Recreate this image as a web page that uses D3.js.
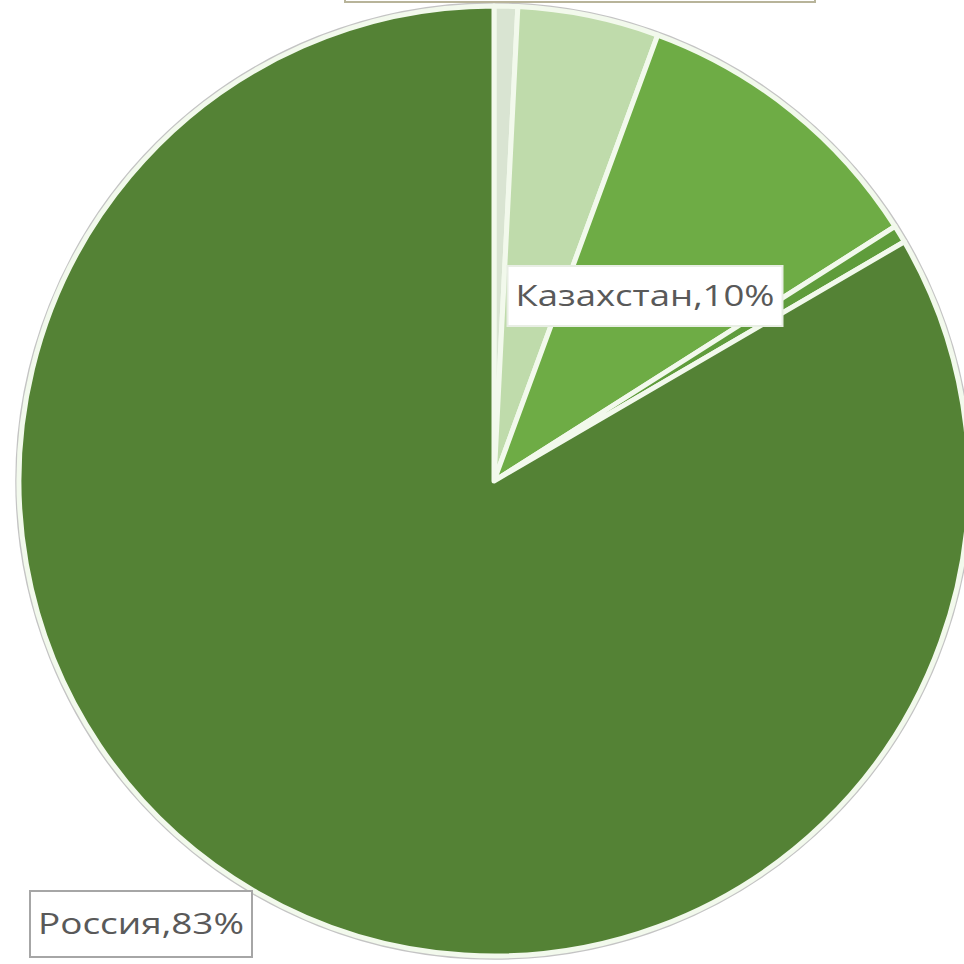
<!DOCTYPE html>
<html><head><meta charset="utf-8">
<script src="https://cdn.jsdelivr.net/npm/d3@7"></script>
<style>html,body{margin:0;padding:0;background:#fff;}svg{display:block;}</style>
</head><body>
<svg id="c" width="964" height="964"></svg>
<script>
const categories = ["Прочие", "Беларусь", "Казахстан", "Киргизия", "Россия"];
const values = [0.8, 4.8, 10.4, 0.6, 83.4];
const colors = ["#d9e4d2", "#bfdbab", "#6eac45", "#5f9c3b", "#548235"];
const shownLabels = ["Казахстан", "Россия"];

const svg = d3.select("#c");
const cx = 494, cy = 481, R = 475;
const g = svg.append("g").attr("transform", `translate(${cx},${cy})`);

const data = categories.map((c, i) => ({name: c, value: values[i], color: colors[i]}));
const pie = d3.pie().value(d => d.value).sort(null).startAngle(0).endAngle(2 * Math.PI);
const arcs = pie(data);
const arc = d3.arc().innerRadius(0).outerRadius(R);

// outer grey rim
g.append("circle").attr("r", R + 2.5).attr("fill", "none").attr("stroke", "#c4c4c4").attr("stroke-width", 2.5);

g.selectAll("path.slice").data(arcs).join("path")
  .attr("class", "slice")
  .attr("d", arc)
  .attr("fill", d => d.data.color)
  .attr("stroke", "#f2f9ec")
  .attr("stroke-width", 5)
  .attr("stroke-linejoin", "round");

// top label box (cut off at top of image)
svg.append("rect").attr("x", 345).attr("y", -40).attr("width", 470).attr("height", 42)
  .attr("fill", "#fff").attr("stroke", "#b8b49a").attr("stroke-width", 2);

const fmt = v => Math.round(v) + "%";
const labelPos = {"Казахстан": [151, -185, 275, 60, false], "Россия": [-353, 443, 222, 66, true]};
arcs.filter(a => shownLabels.includes(a.data.name)).forEach(a => {
  const [dx, dy, w, h, border] = labelPos[a.data.name];
  const lg = g.append("g").attr("transform", `translate(${dx},${dy})`);
  lg.append("rect").attr("x", -w / 2).attr("y", -h / 2).attr("width", w).attr("height", h)
    .attr("fill", "#fff").attr("stroke", border ? "#a6a6a6" : "#e8eee4").attr("stroke-width", 2);
  lg.append("text").attr("text-anchor", "middle").attr("dy", "0.36em")
    .attr("font-family", "Open Sans, sans-serif").attr("font-size", 29)
    .attr("fill", "#595959")
    .attr("textLength", w - 16).attr("lengthAdjust", "spacingAndGlyphs")
    .text(a.data.name + "," + fmt(a.data.value));
});
</script>
</body></html>
